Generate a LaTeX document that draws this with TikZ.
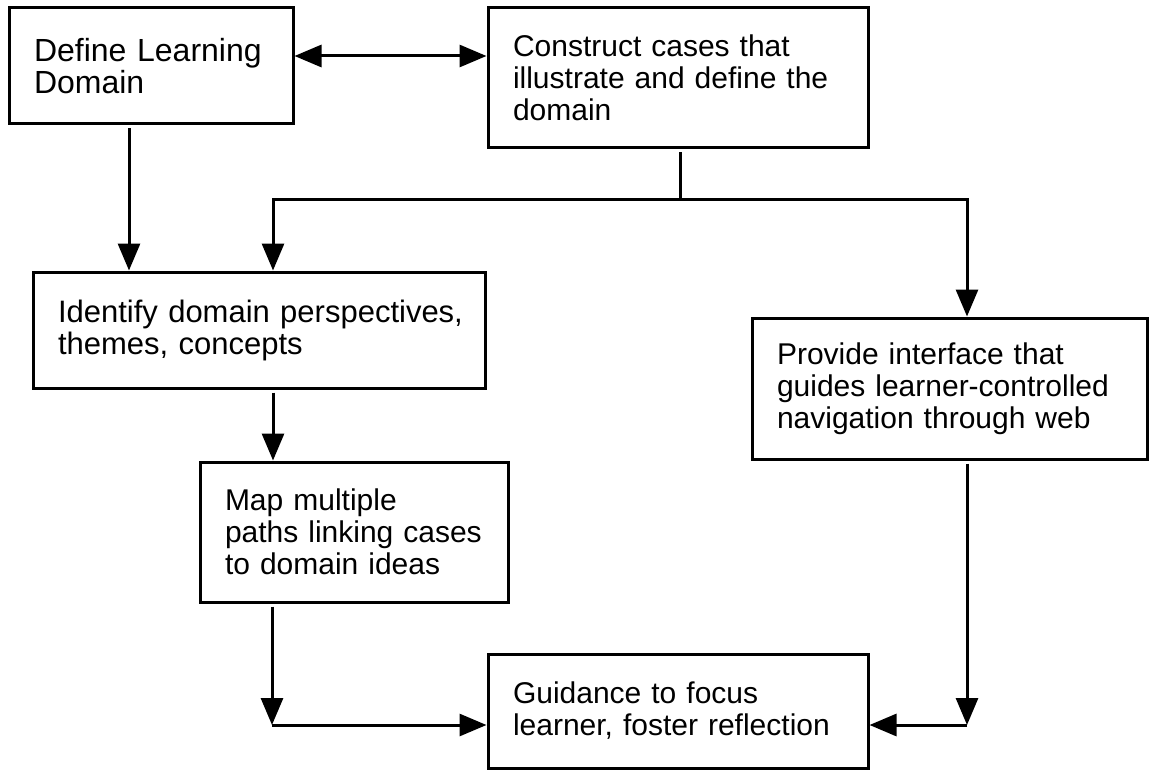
\documentclass[tikz,border=0pt]{standalone}
\usepackage{fontspec}
\setmainfont{Liberation Sans}
\usetikzlibrary{arrows.meta,positioning,calc}
\definecolor{ink}{HTML}{000000}
\definecolor{paper}{HTML}{FFFFFF}
\tikzset{
  base/.style={font=\fontsize{15}{16}\selectfont, text=ink},
  box/.style={base, draw=ink, line width=1.5pt, fill=paper, align=left, inner xsep=12.5pt, inner ysep=0pt},
  wire/.style={line width=1.5pt, draw=ink, shorten <=1.5pt},
  arrow/.style={wire, -{Triangle[length=13.5pt,width=11pt]}},
  biarrow/.style={wire, shorten <=0pt, {Triangle[length=13.5pt,width=11pt]}-{Triangle[length=13.5pt,width=11pt]}},
}
\begin{document}
\begin{tikzpicture}[x=0.5pt,y=-0.5pt]
  \path[fill=paper] (0,0) rectangle (1149,770);
  \useasboundingbox (0,0) rectangle (1149,770);

  \node[box,font=\fontsize{16}{16}\selectfont,minimum width=142pt,minimum height=58pt,text width=117pt] (define) at (151,66) {Define Learning\\Domain};
  \node[box,minimum width=190pt,minimum height=70pt,text width=165pt] (construct) at (678,78) {Construct cases that\\illustrate and define the\\domain};
  \node[box,font=\fontsize{15.5}{16}\selectfont,minimum width=226pt,minimum height=58pt,text width=201pt] (identify) at (259,330) {\mbox{Identify domain perspectives,}\\themes, concepts};
  \node[box,minimum width=197.5pt,minimum height=70.5pt,text width=172.5pt] (provide) at (949.5,388.5) {Provide interface that\\guides learner-controlled\\navigation through web};
  \node[box,minimum width=154pt,minimum height=70pt,text width=129pt] (map) at (354,532) {Map multiple\\paths linking cases\\to domain ideas};
  \node[box,minimum width=190pt,minimum height=57pt,text width=165pt] (guide) at (678,711) {Guidance to focus\\learner, foster reflection};

  \coordinate (row) at (0,56);
  \coordinate (laneD) at (129,0);
  \coordinate (split) at (680,200);
  \coordinate (laneA) at (273,200);
  \coordinate (laneB) at (967,200);
  \coordinate (joinL) at (272,725);
  \coordinate (joinR) at (967,725);

  \draw[biarrow] (define.east |- row) -- (construct.west |- row);
  \draw[arrow] (define.south -| laneD) -- (identify.north -| laneD);
  \draw[wire] (construct.south -| split) -- (split);
  \draw[arrow, shorten <=0pt] (split) -| (laneA |- identify.north);
  \draw[arrow, shorten <=0pt] (split) -| (laneB |- provide.north);
  \draw[arrow] (identify.south -| laneA) -- (map.north -| laneA);
  \draw[arrow] (map.south -| joinL) -- (joinL);
  \draw[arrow, shorten <=0pt] (joinL) -- (joinL -| guide.west);
  \draw[arrow] (provide.south -| joinR) -- (joinR);
  \draw[arrow, shorten <=0pt] (joinR) -- (joinR -| guide.east);
\end{tikzpicture}
\end{document}
